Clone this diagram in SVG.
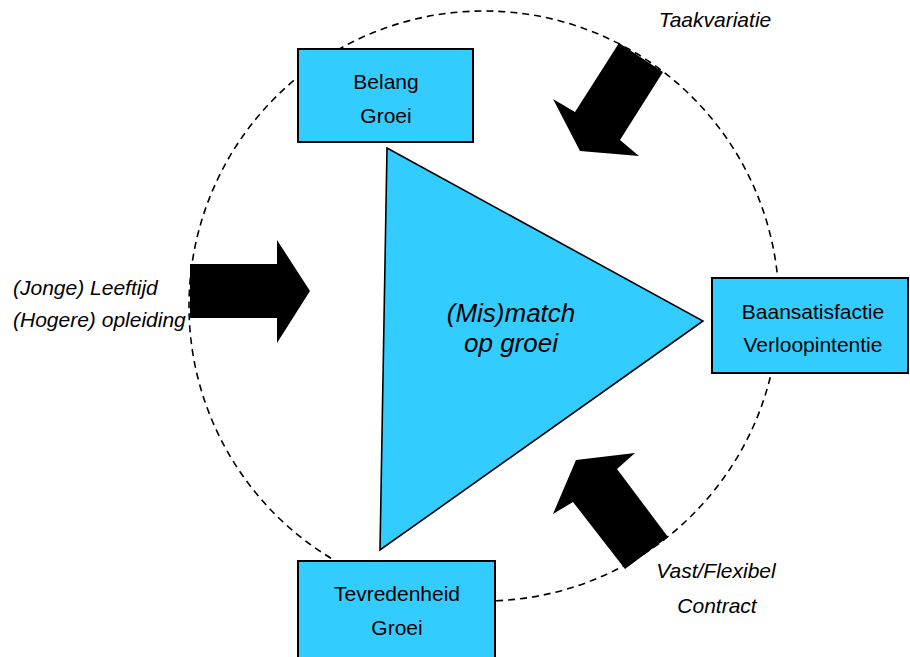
<svg xmlns="http://www.w3.org/2000/svg" width="910" height="657" viewBox="0 0 910 657">
  <style>
    .box { fill: #33CCFF; stroke: #000; stroke-width: 2; }
    .lbl { font-family: "Liberation Sans", Arial, sans-serif; font-size: 21px; fill: #000; text-anchor: middle; }
    .ital { font-family: "Liberation Sans", Arial, sans-serif; font-size: 21px; font-style: italic; fill: #000; }
    .big { font-family: "Liberation Sans", Arial, sans-serif; font-size: 26px; font-style: italic; fill: #000; text-anchor: middle; }
    .ring { fill: none; stroke: #000; stroke-width: 1.6; stroke-dasharray: 7 5; }
    .arrow { fill: #000; stroke: none; }
  </style>
  <rect width="910" height="657" fill="#fff"/>

  <!-- dashed ring around the model -->
  <g id="ring">
    <circle class="ring" cx="484" cy="306" r="295"/>
  </g>

  <!-- central triangle -->
  <g id="mismatch">
    <polygon points="387,148 703,321 380,550" fill="#33CCFF" stroke="#000" stroke-width="1.6"/>
    <text class="big" x="511" y="322">(Mis)match</text>
    <text class="big" x="511" y="352">op groei</text>
  </g>

  <g id="belang">
    <rect class="box" x="298" y="49" width="175" height="93"/>
    <text class="lbl" x="386" y="89">Belang</text>
    <text class="lbl" x="386" y="123">Groei</text>
  </g>

  <g id="baansatisfactie">
    <rect class="box" x="712" y="278" width="196" height="95"/>
    <text class="lbl" x="813" y="319">Baansatisfactie</text>
    <text class="lbl" x="813" y="352">Verloopintentie</text>
  </g>

  <g id="tevredenheid">
    <rect class="box" x="298" y="561" width="197" height="100"/>
    <text class="lbl" x="397" y="601">Tevredenheid</text>
    <text class="lbl" x="397" y="635">Groei</text>
  </g>

  <!-- block arrows for the influencing factors -->
  <g id="connectors">
    <polygon class="arrow" points="190,264 277,264 277,240 310,291 277,343 277,318 190,318"/>
    <polygon class="arrow" points="619,43 663,72 620,140 639,156 580,151 553,99 575,112"/>
    <polygon class="arrow" points="576,460 635,453 617,469 668,537 625,569 573,502 553,514"/>
  </g>

  <g id="factor-leeftijd">
    <text class="ital" x="13" y="295">(Jonge) Leeftijd</text>
    <text class="ital" x="13" y="327">(Hogere) opleiding</text>
  </g>

  <g id="factor-taakvariatie">
    <text class="ital" x="715" y="27" text-anchor="middle">Taakvariatie</text>
  </g>

  <g id="factor-contract">
    <text class="ital" x="716" y="578" text-anchor="middle">Vast/Flexibel</text>
    <text class="ital" x="717" y="613" text-anchor="middle">Contract</text>
  </g>
</svg>
